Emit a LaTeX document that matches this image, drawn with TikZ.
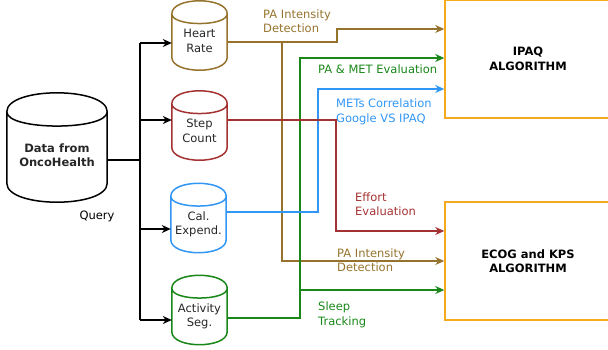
\documentclass[tikz,border=0pt]{standalone}
\usepackage{fontspec}
\setmainfont{DejaVu Sans}
\usetikzlibrary{positioning,arrows.meta,calc}

\definecolor{pabrown}{RGB}{150,115,45}
\definecolor{effred}{RGB}{165,50,50}
\definecolor{metblue}{RGB}{50,150,245}
\definecolor{sleepgreen}{RGB}{25,135,25}
\definecolor{algoorange}{RGB}{245,170,30}

\begin{document}
\begin{tikzpicture}[
  x=1pt, y=-1pt,
  font=\fontsize{11.5}{14.5}\selectfont,
  store/.style={align=center, inner sep=0pt, text=black!85,
                text height=33pt, text depth=0pt},
  src/.style={store, minimum width=55pt, minimum height=69pt},
  algo/.style={draw=algoorange, line width=1.5pt, minimum width=166pt,
               minimum height=118pt, align=center, font=\fontsize{11.5}{14.5}\selectfont\bfseries},
  link/.style={line width=1.6pt, draw=#1},
  arr/.style={link=#1, -{Stealth[length=9pt, width=8pt]}},
  lab/.style={text=#1, anchor=west, align=left, inner sep=0pt}
]
\useasboundingbox (0,0) rectangle (608,349);
\clip (0,0) rectangle (608,349);
% ----- data sources -----
\node[store, minimum width=100pt, minimum height=109pt, text height=38pt,
      font=\fontsize{11.5}{14.5}\selectfont\bfseries] (oh) at (57,147.5) {Data from\\OncoHealth};
\node[src] (hr) at (199.5,35.5)  {Heart\\Rate};
\node[src] (sc) at (199.5,125.5) {Step\\Count};
\node[src] (ce) at (198.5,218)   {Cal.\\Expend.};
\node[src] (as) at (199.5,310)   {Activity\\Seg.};
% cylinder outlines round the source nodes
\foreach \n/\c/\d in {oh/black/19, hr/pabrown/13, sc/effred/13, ce/metblue/13, as/sleepgreen/13}{
  \draw[\c, line width=1.5pt]
    ([yshift=-\d pt]\n.north west)
      .. controls ([yshift=\d/3*1pt]\n.north west) and ([yshift=\d/3*1pt]\n.north east)
      .. ([yshift=-\d pt]\n.north east)
    -- ([yshift=\d pt]\n.south east)
      .. controls ([yshift=-\d/3*1pt]\n.south east) and ([yshift=-\d/3*1pt]\n.south west)
      .. ([yshift=\d pt]\n.south west) -- cycle
    ([yshift=-\d pt]\n.north west)
      .. controls ([yshift=-2*\d*1pt]\n.north west) and ([yshift=-2*\d*1pt]\n.north east)
      .. ([yshift=-\d pt]\n.north east);
}
% ----- algorithms (run off the right edge) -----
\node[algo] (ipaq) at (528,59)  {IPAQ\\ALGORITHM};
\node[algo] (ecog) at (528,261) {ECOG and KPS\\ALGORITHM};
% ----- query fan-out -----
\coordinate (btop) at (140,43);
\coordinate (bbot) at (140,320);
\draw[link=black] (oh.east |- 0,160) -- (btop |- 0,160);
\draw[link=black] (btop) -- (bbot);
\foreach \n/\y in {hr/43, sc/120, ce/229, as/320}
  {\draw[arr=black] (btop |- 0,\y) -- (\n.west |- 0,\y);}
\node[inner sep=0pt] (query) at (97,216) {Query};
% ----- heart rate: PA intensity to both -----
\draw[arr=pabrown] (hr.east |- 0,42) -- (337,42) -- (337,29) -- (ipaq.west |- 0,29);
\draw[arr=pabrown] (282,42) -- (282,261) -- (ecog.west |- 0,261);
\node[lab=pabrown] (pa1) at (263,21) {PA Intensity\\Detection};
\node[lab=pabrown] (pa2) at (337,260) {PA Intensity\\Detection};
% ----- activity segments: PA & MET, sleep -----
\draw[arr=sleepgreen] (as.east |- 0,318) -- (300,318) -- (300,58) -- (ipaq.west |- 0,58);
\draw[arr=sleepgreen] (300,290) -- (ecog.west |- 0,290);
\node[lab=sleepgreen] (pamet) at (318,69) {PA \& MET Evaluation};
\node[lab=sleepgreen] (sleep) at (318,315) {Sleep\\Tracking};
% ----- calories: METs correlation -----
\draw[arr=metblue] (ce.east |- 0,212) -- (318,212) -- (318,89) -- (ipaq.west |- 0,89);
\node[lab=metblue] (mets) at (336,112) {METs Correlation\\Google VS IPAQ};
% ----- step count: effort -----
\draw[arr=effred] (sc.east |- 0,120) -- (336,120) -- (336,231) -- (ecog.west |- 0,231);
\node[lab=effred] (effort) at (355,204) {Effort\\Evaluation};
\end{tikzpicture}
\end{document}
